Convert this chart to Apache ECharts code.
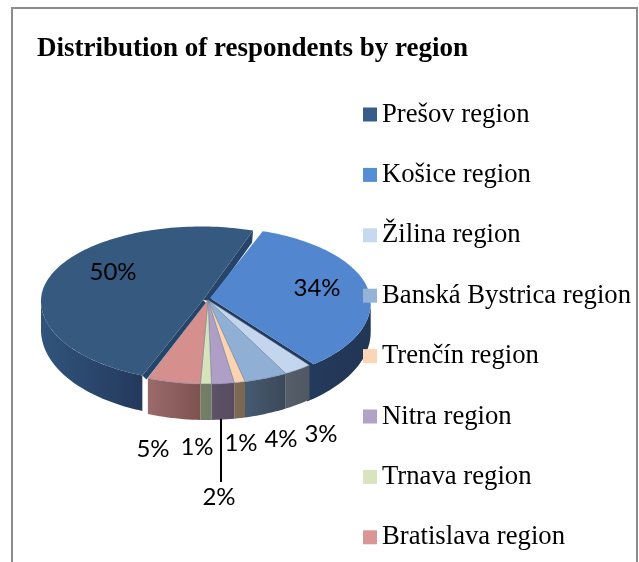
<!DOCTYPE html>
<html>
<head>
<meta charset="utf-8">
<style>
  html, body { margin: 0; padding: 0; background: #fff; }
  #chart { width: 639px; height: 562px; }
</style>
</head>
<body>
<div id="chart"></div>
<script src="https://cdn.jsdelivr.net/npm/echarts@6/dist/echarts.min.js"></script>
<script>
// values, in percent
const regions = ['Prešov region', 'Košice region', 'Žilina region', 'Banská Bystrica region', 'Trenčín region', 'Nitra region', 'Trnava region', 'Bratislava region'];
const shares = [49.6, 33.8, 2.9, 4.4, 1.1, 2.3, 1.1, 5.4];

// colours
const topColors = ['#35597f', '#5287d0', '#c3d6ee', '#90afd5', '#fbd2b2', '#af9fc6', '#d6e3bb', '#d58f8d'];
const legendColors = ['#385d8a', '#558ed5', '#c6d9f1', '#95b3d7', '#fcd5b5', '#b3a2c7', '#d7e4bd', '#d99694'];
const sideColors = [
  ['#31547c', '#24395c'], ['#243a5c', '#223655'], ['#565e69', '#4f5762'], ['#465a70', '#3b4959'],
  ['#7d6a56', '#7a6751'], ['#5e5268', '#574b60'], ['#737f66', '#707c63'], ['#9a6b6a', '#7e5251']
];

const startAngle = 201.5;
const total = shares.reduce((a, b) => a + b, 0);

// top ellipse of each slice, the first two are pulled out of the pie
const restShape = { cx: 206.5, cy: 304, rx: 160, ryTop: 76, ryBottom: 80, tip: [208, 300] };
const shapes = [
  { cx: 201, cy: 301, rx: 160, ryTop: 74.5, ryBottom: 80, tip: [203, 300] },
  { cx: 210.7, cy: 303, rx: 160, ryTop: 76, ryBottom: 80, tip: [210, 298] }
];

// label centres
const labelPos = [[113, 272], [317, 288], [321, 434], [281, 439], [241, 443], [219, 497], [197, 447], [153, 449]];

function rimPoint(s, deg) {
  const a = deg * Math.PI / 180;
  const c = Math.cos(a);
  return [s.cx + s.rx * Math.sin(a), s.cy - (c > 0 ? s.ryTop : s.ryBottom) * c];
}
function depthAt(deg) {
  return 29 - 7 * Math.cos(deg * Math.PI / 180);
}
function arc(s, from, to, drop) {
  const pts = [];
  const n = Math.max(2, Math.ceil(Math.abs(to - from) / 1.5));
  for (let i = 0; i <= n; i++) {
    const d = from + (to - from) * i / n;
    const p = rimPoint(s, d);
    pts.push(drop ? [p[0], p[1] + depthAt(d)] : p);
  }
  return pts;
}
function poly(points, fill, extra) {
  return Object.assign({ type: 'polygon', silent: true, shape: { points: points }, style: { fill: fill } }, extra || {});
}

// visible part of the outer wall, only the front half of the pie shows
function wallPieces(from, to) {
  const pieces = [];
  [[90, 270], [450, 630]].forEach((r) => {
    const a = Math.max(from, r[0]);
    const b = Math.min(to, r[1]);
    if (b > a) pieces.push([a, b]);
  });
  return pieces;
}

function sliceRender(i, from, to) {
  return function () {
    const s = shapes[i] || restShape;
    const kids = [];
    // the Košice wall runs on a little under the small slices so no gap shows
    const wallTo = i === 1 ? to + 3 : to;
    wallPieces(from, wallTo).forEach((p) => {
      const top = arc(s, p[0], p[1], false);
      const bottom = arc(s, p[0], p[1], true).reverse();
      const xs = top.map((q) => q[0]);
      const x0 = Math.min.apply(null, xs);
      const x1 = Math.max.apply(null, xs);
      kids.push(poly(top.concat(bottom), new echarts.graphic.LinearGradient(x0, 0, x1, 0, [
        { offset: 0, color: sideColors[i][0] },
        { offset: 1, color: sideColors[i][1] }
      ], true)));
    });
    const first = rimPoint(s, from);
    const last = rimPoint(s, to);
    if (i === 0) {
      // cut faces of the big slice
      kids.push(poly([first, [first[0] + 4, first[1] + 4], [s.tip[0] + 3, s.tip[1] + 3], s.tip], '#264368'));
      kids.push(poly([last, [last[0] - 1, last[1] + 12], [s.tip[0] + 7, s.tip[1] + 1], s.tip], '#264368'));
    }
    if (i === 1) {
      kids.push(poly([s.tip, last, [last[0] - 3, last[1] + 6], [s.tip[0] - 2, s.tip[1] + 3]], '#233a5c'));
    }
    const stroke = i > 1 ? { stroke: '#6f7f92', lineWidth: 0.5 } : {};
    kids.push(poly([s.tip].concat(arc(s, from, to, false)), topColors[i], {
      style: Object.assign({ fill: topColors[i] }, stroke)
    }));
    if (regions[i] === 'Nitra region') {
      // leader line down to the moved label
      kids.push({
        type: 'line', silent: true,
        shape: { x1: 221, y1: 419, x2: 221, y2: 482 },
        style: { stroke: '#000', lineWidth: 2 }
      });
    }
    kids.push({
      type: 'text', silent: true, z2: 100,
      style: {
        x: labelPos[i][0], y: labelPos[i][1],
        text: Math.round(shares[i]) + '%',
        fill: '#000', fontSize: 24, fontFamily: 'Lato',
        align: 'center', verticalAlign: 'middle'
      }
    });
    return { type: 'group', children: kids };
  };
}

let cursor = startAngle;
const series = regions.map((name, i) => {
  const from = cursor;
  const to = cursor + shares[i] / total * 360;
  cursor = to;
  return {
    type: 'custom',
    name: name,
    coordinateSystem: 'none',
    silent: true,
    animation: false,
    z: i < 2 ? 2 + i : 5 + i,
    itemStyle: { color: legendColors[i] },
    data: [{ name: name, value: shares[i] }],
    renderItem: sliceRender(i, from, to)
  };
});

const chart = echarts.init(document.getElementById('chart'), null, { renderer: 'canvas' });
chart.setOption({
  animation: false,
  backgroundColor: '#fff',
  graphic: [{
    type: 'rect', silent: true, z: 0,
    shape: { x: 12, y: 8, width: 625, height: 580 },
    style: { fill: '#fff', stroke: '#8c8c8c', lineWidth: 2 }
  }],
  title: {
    text: 'Distribution of respondents by region',
    left: 37, top: 36,
    padding: 0,
    textStyle: { fontFamily: 'Liberation Serif', fontWeight: 'bold', fontSize: 27, color: '#000' }
  },
  legend: {
    orient: 'vertical',
    left: 363, top: 101,
    padding: 0,
    icon: 'rect',
    itemWidth: 14, itemHeight: 14,
    itemGap: 33.4,
    selectedMode: false,
    data: regions,
    textStyle: { fontFamily: 'Liberation Serif', fontSize: 26.7, color: '#000' }
  },
  series: series
});
</script>
</body>
</html>
